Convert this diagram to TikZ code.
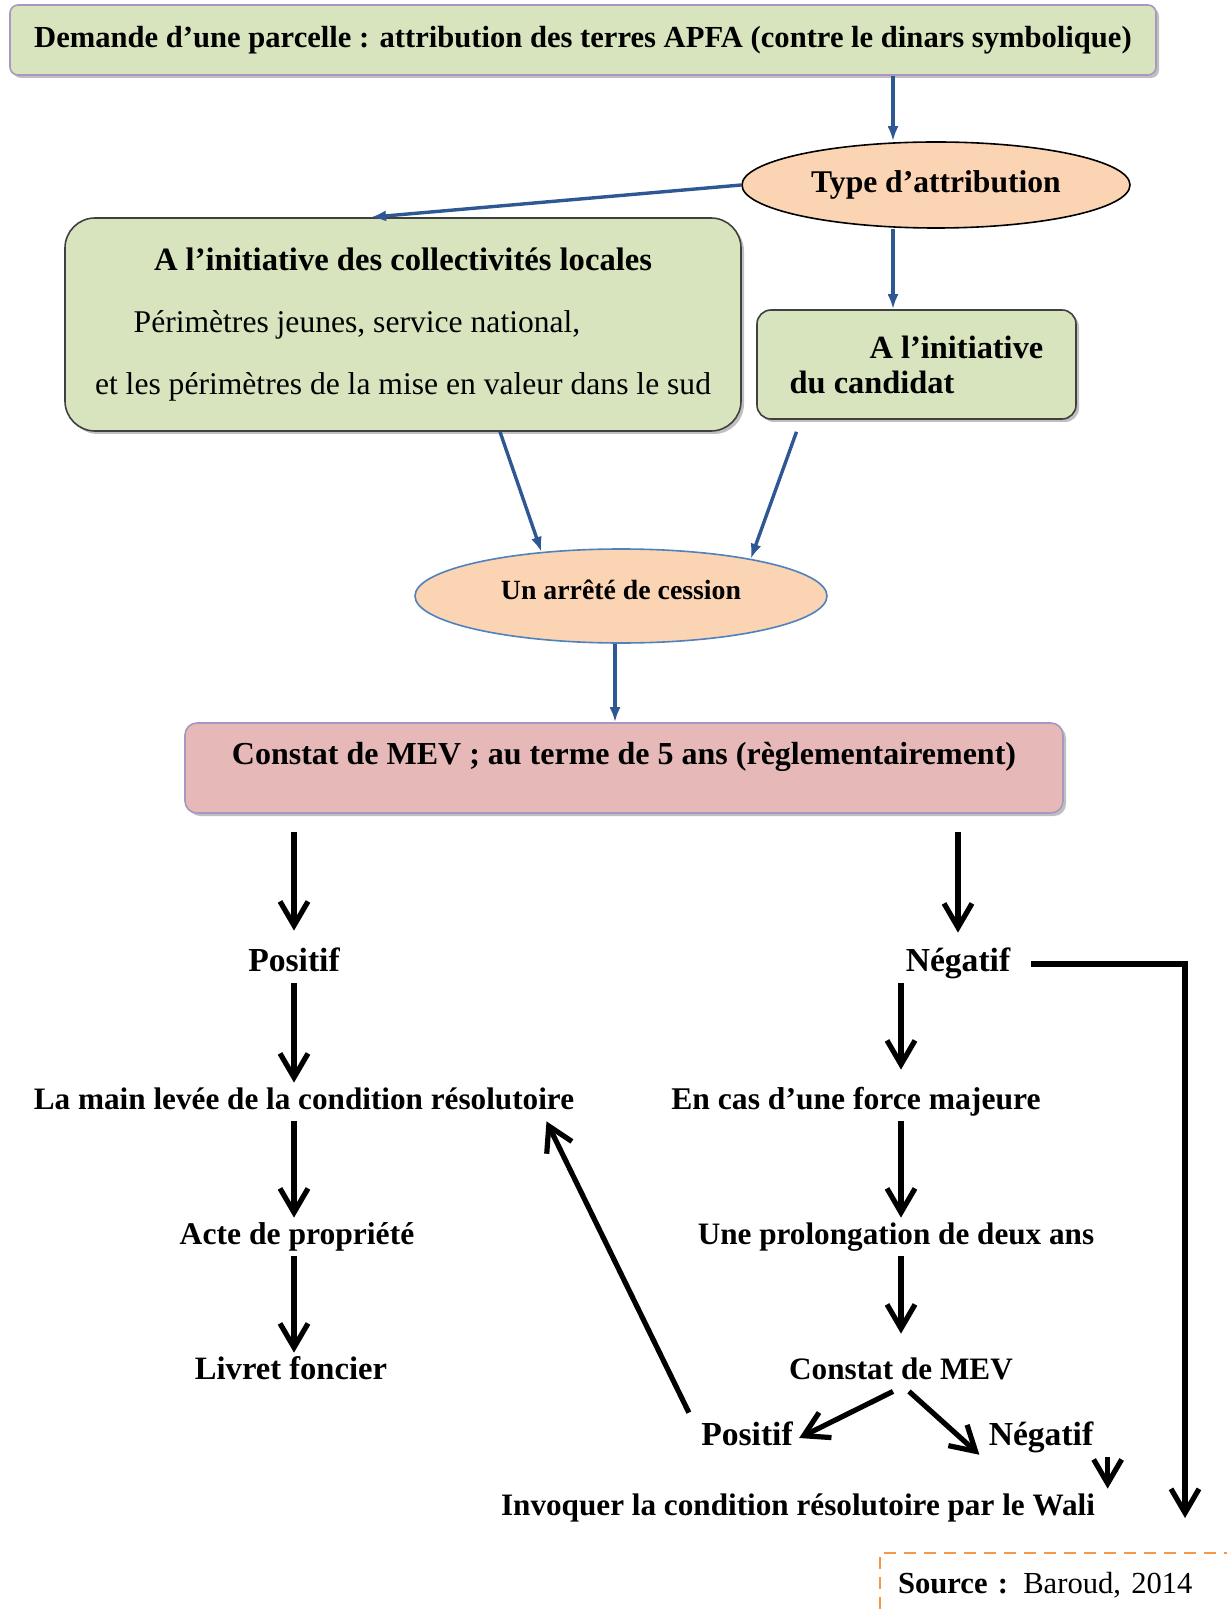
\documentclass[tikz,border=0pt]{standalone}
\usepackage{fontspec}
\setmainfont{Liberation Serif}
\usetikzlibrary{arrows.meta,positioning,shapes.geometric,shadows}

\definecolor{boxgreen}{RGB}{215,228,189}
\definecolor{peach}{RGB}{251,212,180}
\definecolor{boxpink}{RGB}{230,185,184}
\definecolor{lilac}{RGB}{170,150,195}
\definecolor{arrowblue}{RGB}{46,88,148}
\definecolor{ellblue}{RGB}{79,129,189}
\definecolor{srcorange}{RGB}{247,150,70}

\begin{document}
\begin{tikzpicture}[x=0.5pt,y=-0.5pt,
  every node/.style={font=\fontsize{15.8}{18}\selectfont\bfseries},
  box/.style={draw=black!75,fill=boxgreen,line width=0.8pt,
    drop shadow={shadow xshift=1.5pt,shadow yshift=-1.5pt,opacity=0.5}},
  bubble/.style={ellipse,draw,fill=peach,line width=0.8pt,inner sep=0pt},
  lbl/.style={inner sep=3pt,text height=10pt,text depth=3pt},
  flow/.style={draw=arrowblue,line width=1.7pt,-{Latex[length=7.5pt,width=5.5pt]}},
  go/.style={draw,line width=2.6pt,-{Straight Barb[length=12pt,width=14pt]}}]
  \useasboundingbox (0,0) rectangle (1226,1609);

  % boxes and bubbles
  \node[box,draw=lilac,rounded corners=4pt,minimum width=573pt,minimum height=35pt,
    font=\fontsize{15.3}{18}\selectfont\bfseries] (demande) at (583,40)
    {Demande d’une parcelle : attribution des terres APFA (contre le dinars symbolique)};
  \node[bubble,minimum width=194pt,minimum height=43pt] (type) at (936,185) {Type d’attribution};
  \node[box,rounded corners=15pt,minimum width=338pt,minimum height=106.5pt,
    align=center,font=\fontsize{16.3}{31}\selectfont\bfseries] (collect) at (403,324.5)
    {A l’initiative des collectivités locales\\
     {\mdseries\fontsize{15.8}{31}\selectfont Périmètres jeunes, service national,}\hspace*{46pt}\null\\
     {\mdseries\fontsize{15.8}{31}\selectfont et les périmètres de la mise en valeur dans le sud}};
  \node[box,rounded corners=7pt,minimum width=159.5pt,minimum height=54.5pt,
    align=left,font=\fontsize{16.2}{17.5}\selectfont\bfseries] (cand) at (916.5,364.5)
    {\hspace*{40pt}A l’initiative\\du candidat};
  \node[bubble,draw=ellblue,minimum width=206pt,minimum height=47pt,
    text height=9pt,text depth=6pt,font=\fontsize{13.9}{15}\selectfont\bfseries] (cession) at (621,596)
    {Un arrêté de cession};
  \node[box,draw=lilac,fill=boxpink,rounded corners=6pt,minimum width=439pt,minimum height=45pt,
    text height=10pt,text depth=14pt,font=\fontsize{16}{18}\selectfont\bfseries] (constat) at (624,768)
    {Constat de MEV ; au terme de 5 ans (règlementairement)};

  % outcomes
  \node[lbl,font=\fontsize{16.8}{18}\selectfont\bfseries] (pos1) at (294,964) {Positif};
  \node[lbl,font=\fontsize{16.8}{18}\selectfont\bfseries] (neg1) at (958,964) {Négatif};
  \node[lbl,font=\fontsize{15.6}{18}\selectfont\bfseries] (mainlevee) at (304,1102) {La main levée de la condition résolutoire};
  \node[lbl] (acte) at (297,1237) {Acte de propriété};
  \node[lbl,font=\fontsize{16.3}{18}\selectfont\bfseries] (livret) at (291,1372) {Livret foncier};
  \node[lbl] (force) at (856,1102) {En cas d’une force majeure};
  \node[lbl,font=\fontsize{15.6}{18}\selectfont\bfseries] (prolong) at (896,1237) {Une prolongation de deux ans};
  \node[lbl,font=\fontsize{15.6}{18}\selectfont\bfseries] (constat2) at (901,1372) {Constat de MEV};
  \node[lbl,font=\fontsize{16.8}{18}\selectfont\bfseries] (pos2) at (747,1438) {Positif};
  \node[lbl,font=\fontsize{16.8}{18}\selectfont\bfseries] (neg2) at (1041,1438) {Négatif};
  \node[lbl,font=\fontsize{15.6}{18}\selectfont\bfseries] (wali) at (798,1508) {Invoquer la condition résolutoire par le Wali};
  \node[draw=srcorange,dash pattern=on 6pt off 4pt,line width=1.1pt,anchor=north west,inner xsep=9pt,
    text width=170pt,align=left,minimum height=32pt,
    font=\fontsize{15.3}{18}\selectfont] (source) at (879,1552)
    {\textbf{Source :} Baroud, 2014};

  \coordinate (spine) at (893,0);
  \coordinate (lspine) at (294,0);
  \coordinate (rspine) at (901,0);
  \coordinate (neg1end) at (1185,1518);

  \path[every edge/.style=flow]
    (demande.south -| spine) edge (type.north -| spine)
    (type.south -| spine) edge (cand.north -| spine)
    (type.west) edge ([xshift=-16pt]collect.north)
    ([xshift=48.5pt]collect.south) edge (cession.151)
    ([xshift=-60pt,yshift=-6pt]cand.south) edge (cession.16)
    ([xshift=-3pt]cession.south) edge ([xshift=-3pt]cession.south |- constat.north);

  \path[every edge/.style=go]
    (constat.south -| pos1) edge[shorten <=9pt,shorten >=7pt] (pos1)
    (pos1.south -| lspine) edge (mainlevee.north -| lspine)
    (mainlevee.south -| lspine) edge (acte.north -| lspine)
    (acte.south -| lspine) edge (livret.north -| lspine)
    (constat.south -| neg1) edge[shorten <=9pt,shorten >=6pt] (neg1)
    (neg1.south -| rspine) edge[shorten >=6.5pt] (force.north -| rspine)
    (force.south -| rspine) edge (prolong.north -| rspine)
    (prolong.south -| rspine) edge[shorten >=9.5pt] (constat2.north -| rspine)
    ([xshift=-4pt]constat2.south) edge (pos2.east)
    ([xshift=4pt]constat2.south) edge[shorten >=2pt] (neg2.south west)
    ([xshift=4pt]neg2.south east) edge ([xshift=4pt]neg2.south east |- wali.north)
    ([xshift=-3pt,yshift=3pt]pos2.north west) edge ([xshift=-17pt,yshift=0pt]mainlevee.south east);
  \draw[go,shorten <=7pt] (neg1.east) -| (neg1end);
\end{tikzpicture}
\end{document}
